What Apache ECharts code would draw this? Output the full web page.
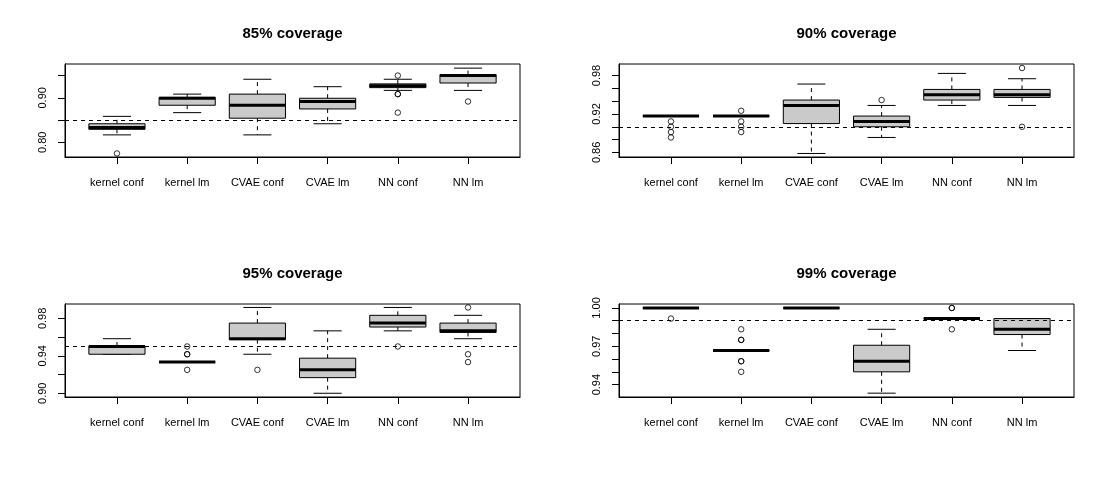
<!DOCTYPE html>
<html>
<head>
<meta charset="utf-8">
<script src="https://cdn.jsdelivr.net/npm/echarts/dist/echarts.min.js"></script>
<style>
html,body{margin:0;padding:0;background:#fff;}
#chart{width:1108px;height:478px;}
</style>
</head>
<body>
<div id="chart"></div>
<script>
// ---------------- data ----------------
const categories = ['kernel conf', 'kernel lm', 'CVAE conf', 'CVAE lm', 'NN conf', 'NN lm'];
const titles = ['85% coverage', '90% coverage', '95% coverage', '99% coverage'];
const nominal = [0.85, 0.90, 0.95, 0.99];

// box statistics per category: [lower whisker, Q1, median, Q3, upper whisker]
const stats85 = [
  [0.8167, 0.8292, 0.8333, 0.8417, 0.8583],
  [0.8667, 0.8833, 0.8990, 0.9010, 0.9083],
  [0.8167, 0.8542, 0.8833, 0.9083, 0.9417],
  [0.8417, 0.8750, 0.8917, 0.8990, 0.9250],
  [0.9167, 0.9229, 0.9271, 0.9313, 0.9417],
  [0.9167, 0.9333, 0.9500, 0.9521, 0.9667]
];
const stats90 = [
  [0.9167, 0.9167, 0.9167, 0.9167, 0.9167],
  [0.9167, 0.9167, 0.9167, 0.9167, 0.9167],
  [0.8583, 0.9050, 0.9333, 0.9417, 0.9667],
  [0.8833, 0.9000, 0.9083, 0.9167, 0.9333],
  [0.9333, 0.9417, 0.9500, 0.9583, 0.9833],
  [0.9333, 0.9458, 0.9500, 0.9583, 0.9750]
];
const stats95 = [
  [0.9417, 0.9417, 0.9500, 0.9505, 0.9583],
  [0.9333, 0.9333, 0.9333, 0.9333, 0.9333],
  [0.9417, 0.9573, 0.9583, 0.9750, 0.9917],
  [0.9000, 0.9167, 0.9250, 0.9375, 0.9667],
  [0.9667, 0.9708, 0.9750, 0.9833, 0.9917],
  [0.9583, 0.9650, 0.9667, 0.9750, 0.9833]
];
const stats99 = [
  [1.0000, 1.0000, 1.0000, 1.0000, 1.0000],
  [0.9667, 0.9667, 0.9667, 0.9667, 0.9667],
  [1.0000, 1.0000, 1.0000, 1.0000, 1.0000],
  [0.9333, 0.9500, 0.9583, 0.9708, 0.9833],
  [0.9917, 0.9917, 0.9917, 0.9917, 0.9917],
  [0.9667, 0.9792, 0.9833, 0.9917, 0.9917]
];

// outliers: [category position (1-6), value]
const outliers85 = [[1, 0.7750], [5, 0.9500], [5, 0.9083], [5, 0.9083], [5, 0.8667], [6, 0.8917]];
const outliers90 = [[1, 0.9083], [1, 0.9000], [1, 0.8917], [1, 0.8833],
                    [2, 0.9250], [2, 0.9083], [2, 0.9000], [2, 0.8917],
                    [4, 0.9417], [6, 0.9917], [6, 0.9000]];
const outliers95 = [[2, 0.9500], [2, 0.9417], [2, 0.9417], [2, 0.9250], [3, 0.9250],
                    [5, 0.9500], [6, 0.9917], [6, 0.9417], [6, 0.9333]];
const outliers99 = [[1, 0.9917], [2, 0.9833], [2, 0.9750], [2, 0.9750], [2, 0.9583], [2, 0.9583], [2, 0.9500],
                    [5, 1.0000], [5, 1.0000], [5, 0.9833]];

// axis ticks and labels
const yTicks85 = [0.80, 0.85, 0.90, 0.95];
const yLabels85 = [0.80, 0.90];
const yTicks90 = [0.86, 0.88, 0.90, 0.92, 0.94, 0.96, 0.98];
const yLabels90 = [0.86, 0.92, 0.98];
const yTicks95 = [0.90, 0.92, 0.94, 0.96, 0.98];
const yLabels95 = [0.90, 0.94, 0.98];
const yTicks99 = [0.94, 0.95, 0.96, 0.97, 0.98, 0.99, 1.00];
const yLabels99 = [0.94, 0.97, 1.00];
const yRanges = [[0.767, 0.976], [0.8528, 0.998], [0.8960, 0.9954], [0.9303, 1.0031]];
const xPositions = [1, 2, 3, 4, 5, 6];

// ---------------- chart ----------------
const FONT = '"Liberation Sans", Arial, Helvetica, sans-serif';
const panels = [
  { stats: stats85, out: outliers85, ticks: yTicks85, labels: yLabels85 },
  { stats: stats90, out: outliers90, ticks: yTicks90, labels: yLabels90 },
  { stats: stats95, out: outliers95, ticks: yTicks95, labels: yLabels95 },
  { stats: stats99, out: outliers99, ticks: yTicks99, labels: yLabels99 }
];
const layout = [
  { left: 65, top: 64 }, { left: 619, top: 64 },
  { left: 65, top: 304 }, { left: 619, top: 304 }
];
const PW = 455, PH = 93;

function renderBox(params, api) {
  const x = api.value(0);
  const ys = [1, 2, 3, 4, 5].map(i => api.coord([x, api.value(i)])[1]);
  const cx = api.coord([x, api.value(1)])[0];
  const hw = api.size([0.4, 0])[0];
  const sw = api.size([0.2, 0])[0];
  const [yMin, yQ1, yMed, yQ3, yMax] = ys;
  const solid = { stroke: '#000', lineWidth: 1 };
  const dash = { stroke: '#000', lineWidth: 1, lineDash: [4, 4] };
  const ln = (x1, y1, x2, y2, style) => ({ type: 'line', shape: { x1, y1, x2, y2 }, style });
  return {
    type: 'group',
    children: [
      ln(cx, yQ3, cx, yMax, dash),
      ln(cx, yQ1, cx, yMin, dash),
      ln(cx - sw, yMax, cx + sw, yMax, solid),
      ln(cx - sw, yMin, cx + sw, yMin, solid),
      { type: 'rect', shape: { x: cx - hw, y: yQ3, width: 2 * hw, height: Math.max(yQ1 - yQ3, 0) },
        style: { fill: '#cacaca', stroke: '#000', lineWidth: 1 } },
      ln(cx - hw, yMed, cx + hw, yMed, { stroke: '#000', lineWidth: 3 })
    ]
  };
}

const grid = [], xAxis = [], yAxis = [], series = [], graphic = [];
panels.forEach((p, i) => {
  const L = layout[i];
  grid.push({ left: L.left, top: L.top, width: PW, height: PH, show: true,
              borderColor: '#000', borderWidth: 1, backgroundColor: 'transparent' });
  xAxis.push({
    type: 'value', gridIndex: i, min: 0.26, max: 6.74,
    axisLine: { show: true, lineStyle: { color: '#000', width: 1 } },
    axisTick: { show: true, customValues: xPositions, length: 7, lineStyle: { color: '#000' } },
    axisLabel: { customValues: xPositions, formatter: v => categories[Math.round(v) - 1],
                 color: '#000', fontSize: 11, fontFamily: FONT, margin: 20 },
    splitLine: { show: false }
  });
  yAxis.push({
    type: 'value', gridIndex: i, min: yRanges[i][0], max: yRanges[i][1],
    axisLine: { show: true, lineStyle: { color: '#000', width: 1 } },
    axisTick: { show: true, customValues: p.ticks, length: 7, lineStyle: { color: '#000' } },
    axisLabel: { customValues: p.labels, formatter: v => v.toFixed(2), rotate: 90,
                 color: '#000', fontSize: 11, fontFamily: FONT, margin: 17 },
    splitLine: { show: false }
  });
  series.push({
    type: 'custom', xAxisIndex: i, yAxisIndex: i, z: 2,
    data: p.stats.map((s, k) => [xPositions[k], ...s]),
    encode: { x: 0, y: [1, 2, 3, 4, 5] },
    renderItem: renderBox, silent: true
  });
  series.push({
    type: 'scatter', xAxisIndex: i, yAxisIndex: i, z: 3,
    data: p.out, symbol: 'circle', symbolSize: 5.5,
    itemStyle: { color: 'rgba(0,0,0,0)', borderColor: '#000', borderWidth: 1 },
    silent: true,
    markLine: {
      silent: true, symbol: 'none', label: { show: false }, animation: false,
      lineStyle: { type: [4, 4], color: '#000', width: 1 },
      data: [{ yAxis: nominal[i] }]
    }
  });
  graphic.push({
    type: 'text', x: L.left + PW / 2, y: L.top - 30,
    style: { text: titles[i], textAlign: 'center', textVerticalAlign: 'middle',
             font: 'bold 15px ' + FONT, fill: '#000' }
  });
});

const chart = echarts.init(document.getElementById('chart'), null, { renderer: 'canvas' });
chart.setOption({ animation: false, backgroundColor: '#fff', grid, xAxis, yAxis, series, graphic });
</script>
</body>
</html>
